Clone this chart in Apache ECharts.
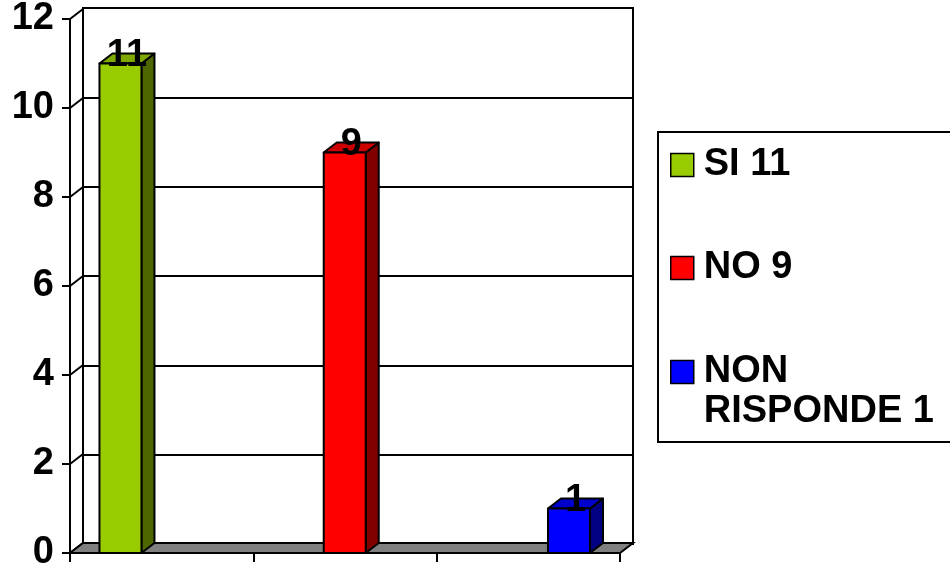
<!DOCTYPE html>
<html><head><meta charset="utf-8">
<script src="https://cdn.jsdelivr.net/npm/echarts@6/dist/echarts.min.js"></script>
<style>html,body{margin:0;padding:0;background:#fff}#c{width:950px;height:572px}</style>
</head><body><div id="c"></div>
<script>
// ---- data ----
const categories = ['SI', 'NO', 'NON RISPONDE'];
const values = [11, 9, 1];
const yTicks = [0, 2, 4, 6, 8, 10, 12];

// ---- style ----
const frontColors = ['#99CC00', '#FF0000', '#0000FF'];
const topColors = ['#7FA800', '#CC0000', '#0000CC'];
const sideColors = ['#4D6600', '#800000', '#000080'];
const FONT = "'Liberation Sans', Arial, Helvetica, sans-serif";
const FS = 38;
const LW = 2;
const DX = 13, DY = -10, BAR_W = 42;

const names = categories.map((c, i) => c + ' ' + values[i]);
const pads = [[39, 0, 39, 5], [0, 0, 0, 5], [0, 0, 0, 5]];

const chart = echarts.init(document.getElementById('c'), null, {renderer: 'canvas'});

function barRender(i) {
  return function (params, api) {
    const x = api.value(0), v = api.value(1);
    const top = api.coord([x, v]);
    const base = api.coord([x, 0]);
    const l = top[0] - BAR_W / 2, r = top[0] + BAR_W / 2, t = top[1], b = base[1];
    const st = {stroke: '#000', lineWidth: LW, lineJoin: 'round'};
    return {
      type: 'group',
      children: [
        {type: 'polygon', shape: {points: [[r, t], [r + DX, t + DY], [r + DX, b + DY], [r, b]]},
          style: Object.assign({fill: sideColors[i]}, st)},
        {type: 'polygon', shape: {points: [[l, t], [l + DX, t + DY], [r + DX, t + DY], [r, t]]},
          style: Object.assign({fill: topColors[i]}, st)},
        {type: 'rect', shape: {x: l, y: t, width: BAR_W, height: b - t},
          style: Object.assign({fill: frontColors[i]}, st)},
        {type: 'text', x: top[0] + DX / 2, y: t - 8,
          style: {text: String(v), fontFamily: FONT, fontWeight: 'bold', fontSize: FS,
            fill: '#000', align: 'center', verticalAlign: 'middle'}}
      ]
    };
  };
}

const barSeries = categories.map((c, i) => ({
  type: 'custom',
  name: names[i],
  xAxisIndex: 2,
  yAxisIndex: 0,
  z: 5,
  silent: true,
  itemStyle: {color: frontColors[i]},
  data: [[i, values[i]]],
  renderItem: barRender(i)
}));

const option = {
  animation: false,
  backgroundColor: '#fff',
  grid: [
    {left: 70, right: 330, top: 18, bottom: 18},
    {left: 83, right: 317, top: 8, bottom: 28, show: true, borderColor: '#000', borderWidth: LW, backgroundColor: 'transparent'}
  ],
  xAxis: [
    {gridIndex: 0, type: 'category', data: categories, boundaryGap: true,
      axisLine: {show: true, onZero: false, lineStyle: {color: '#000', width: LW}},
      axisTick: {show: true, length: 9, lineStyle: {color: '#000', width: LW}},
      axisLabel: {show: false}, splitLine: {show: false}},
    {gridIndex: 1, type: 'category', data: categories, show: false},
    {gridIndex: 0, type: 'value', min: -0.225, max: 2.2275, show: false,
      axisLine: {onZero: false}}
  ],
  yAxis: [
    {gridIndex: 0, type: 'value', min: 0, max: 12, interval: 2,
      axisLine: {show: true, onZero: false, lineStyle: {color: '#000', width: LW}},
      axisTick: {show: true, length: 8, lineStyle: {color: '#000', width: LW}},
      axisLabel: {fontFamily: FONT, fontWeight: 'bold', fontSize: FS, color: '#000', margin: 16},
      splitLine: {show: false}},
    {gridIndex: 1, type: 'value', min: 0, max: 12, interval: 2,
      axisLine: {show: true, onZero: false, lineStyle: {color: '#000', width: LW}},
      axisTick: {show: false}, axisLabel: {show: false},
      splitLine: {show: true, lineStyle: {color: '#000', width: LW}}}
  ],
  legend: {
    orient: 'vertical', left: 670, top: 106, padding: 0, itemGap: 24,
    itemWidth: 23, itemHeight: 23, icon: 'rect', selectedMode: false,
    itemStyle: {borderColor: '#000', borderWidth: 1.5},
    textStyle: {fontFamily: FONT, fontWeight: 'bold', fontSize: FS, color: '#000', lineHeight: 40},
    formatter: n => n.replace('NON ', '\nNON\n'),
    data: names.map((n, i) => ({name: n, textStyle: {padding: pads[i]}}))
  },
  graphic: [
    {type: 'rect', shape: {x: 658, y: 132, width: 320, height: 310},
      style: {fill: 'none', stroke: '#000', lineWidth: LW}, z: 10}
  ],
  series: [
    // floor and diagonals linking front ticks to back wall gridlines
    {type: 'custom', xAxisIndex: 2, yAxisIndex: 0, z: 4, silent: true,
      data: [[0, 0]],
      renderItem: function (params, api) {
        const cs = params.coordSys;
        const x0 = cs.x, x1 = cs.x + cs.width;
        const y = api.coord([0, 0])[1];
        const children = yTicks.map(v => {
          const ty = api.coord([0, v])[1];
          return {type: 'line', shape: {x1: x0, y1: ty, x2: x0 + DX, y2: ty + DY},
            style: {stroke: '#000', lineWidth: LW}};
        });
        children.push({type: 'polygon',
          shape: {points: [[x0, y], [x1, y], [x1 + DX, y + DY], [x0 + DX, y + DY]]},
          style: {fill: '#808080', stroke: '#000', lineWidth: LW}});
        return {type: 'group', children: children};
      }}
  ].concat(barSeries)
};
chart.setOption(option);
</script></body></html>
